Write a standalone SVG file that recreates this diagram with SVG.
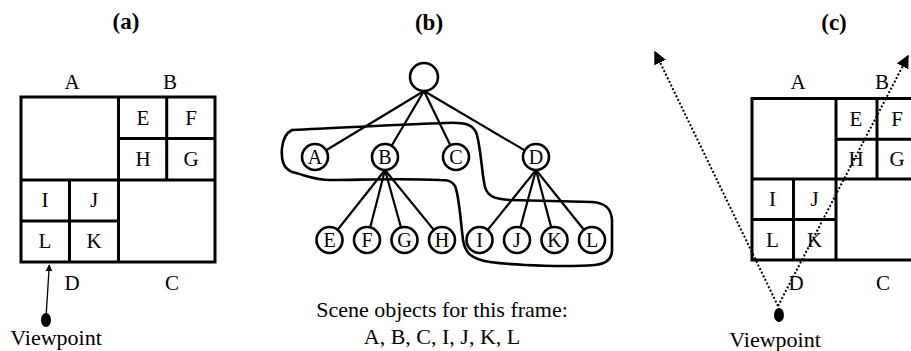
<svg xmlns="http://www.w3.org/2000/svg" width="911" height="351" viewBox="0 0 911 351">
<style>
text{font-family:"Liberation Serif","Times New Roman",serif;font-size:21px;fill:#000;text-anchor:middle}
.title{font-weight:bold;font-size:23px}
.big{font-size:22px}
.nl{font-size:20px}
.grid{fill:none;stroke:#000;stroke-width:3}
.node{fill:#fff;stroke:#000;stroke-width:2.6}
.edge{stroke:#000;stroke-width:2.2;fill:none}
.lasso{fill:none;stroke:#000;stroke-width:2.6;stroke-linejoin:round}
.dot{stroke:#000;stroke-width:2;stroke-dasharray:2 2;fill:none}
</style>
<defs>
<marker id="ah" viewBox="0 0 10 10" refX="9" refY="5" markerWidth="7" markerHeight="10" markerUnits="userSpaceOnUse" orient="auto"><path d="M0,0 L10,5 L0,10 Z" fill="#000"/></marker>
<marker id="ah2" viewBox="0 0 10 10" refX="9" refY="5" markerWidth="13" markerHeight="13" markerUnits="userSpaceOnUse" orient="auto"><path d="M0,0 L10,5 L0,10 Z" fill="#000"/></marker>
</defs>

<!-- Panel (a) -->
<g id="panel-a">
<text class="title" x="126" y="29">(a)</text>
<g id="a-grid">
<rect class="grid" x="21" y="97" width="194" height="165"/>
<line class="grid" x1="118.5" y1="97" x2="118.5" y2="262"/>
<line class="grid" x1="21" y1="180" x2="215" y2="180"/>
<line class="grid" x1="166.7" y1="97" x2="166.7" y2="180"/>
<line class="grid" x1="118.5" y1="138.5" x2="215" y2="138.5"/>
<line class="grid" x1="69.5" y1="180" x2="69.5" y2="262"/>
<line class="grid" x1="21" y1="221" x2="118.5" y2="221"/>
</g>
<text x="72" y="89">A</text>
<text x="170" y="89">B</text>
<text x="143" y="125">E</text>
<text x="191" y="125">F</text>
<text x="143" y="166">H</text>
<text x="191" y="166">G</text>
<text x="45" y="207">I</text>
<text x="94" y="207">J</text>
<text x="45" y="248">L</text>
<text x="94" y="248">K</text>
<text x="72" y="290">D</text>
<text x="172" y="290">C</text>
<g id="a-viewpoint">
<line x1="46" y1="318" x2="49.3" y2="265" stroke="#000" stroke-width="1.3" marker-end="url(#ah)"/>
<ellipse cx="46" cy="320" rx="5" ry="7" fill="#000"/>
<text class="big" x="56" y="345">Viewpoint</text>
</g>
</g>

<!-- Panel (b) -->
<g id="panel-b">
<text class="title" x="429" y="30">(b)</text>
<g id="connectors">
<line class="edge" x1="424" y1="91" x2="326.1" y2="150.3"/>
<line class="edge" x1="424" y1="91" x2="391.6" y2="145.8"/>
<line class="edge" x1="424" y1="91" x2="450.3" y2="145.3"/>
<line class="edge" x1="424" y1="91" x2="524.8" y2="150.4"/>
<line class="edge" x1="385" y1="170" x2="337.6" y2="229.8"/>
<line class="edge" x1="385" y1="170" x2="370.2" y2="227.4"/>
<line class="edge" x1="385" y1="170" x2="401" y2="227.5"/>
<line class="edge" x1="385" y1="170" x2="433.8" y2="229.9"/>
<line class="edge" x1="536" y1="170" x2="487.7" y2="229.9"/>
<line class="edge" x1="536" y1="170" x2="520.4" y2="227.4"/>
<line class="edge" x1="536" y1="170" x2="551.2" y2="227.4"/>
<line class="edge" x1="536" y1="170" x2="583.9" y2="229.8"/>
</g>
<g id="root"><circle class="node" cx="424" cy="77" r="14"/></g>
<g id="nA"><circle class="node" cx="315" cy="157" r="13"/><text class="nl" x="315" y="164">A</text></g>
<g id="nB"><circle class="node" cx="385" cy="157" r="13"/><text class="nl" x="385" y="164">B</text></g>
<g id="nC"><circle class="node" cx="456" cy="157" r="13"/><text class="nl" x="456" y="164">C</text></g>
<g id="nD"><circle class="node" cx="536" cy="157" r="13"/><text class="nl" x="536" y="164">D</text></g>
<g id="nE"><circle class="node" cx="329.5" cy="240" r="13"/><text class="nl" x="329.5" y="247">E</text></g>
<g id="nF"><circle class="node" cx="367" cy="240" r="13"/><text class="nl" x="367" y="247">F</text></g>
<g id="nG"><circle class="node" cx="404.5" cy="240" r="13"/><text class="nl" x="404.5" y="247">G</text></g>
<g id="nH"><circle class="node" cx="442" cy="240" r="13"/><text class="nl" x="442" y="247">H</text></g>
<g id="nI"><circle class="node" cx="479.5" cy="240" r="13"/><text class="nl" x="479.5" y="247">I</text></g>
<g id="nJ"><circle class="node" cx="517" cy="240" r="13"/><text class="nl" x="517" y="247">J</text></g>
<g id="nK"><circle class="node" cx="554.5" cy="240" r="13"/><text class="nl" x="554.5" y="247">K</text></g>
<g id="nL"><circle class="node" cx="592" cy="240" r="13"/><text class="nl" x="592" y="247">L</text></g>
<path id="lasso" class="lasso" d="M292,130 C340,128 410,124 445,123 C465,122 474,124 477,135 C481,150 482,175 485,187 C488,197 495,199 510,200 L592,202 C605,203 611,208 612,220 L612,250 C612,260 605,264 595,265 C570,267 520,266 490,262 C470,259 465,252 463,240 C460,215 459,195 455,186 C452,181 448,180 440,180 C400,178 360,180 330,180 C315,180 305,175 292,172 C283,168 281,160 282,148 C283,138 286,133 292,130 Z"/>
<text class="big" x="442" y="317">Scene objects for this frame:</text>
<text class="big" x="442" y="344">A, B, C, I, J, K, L</text>
</g>

<!-- Panel (c) -->
<g id="panel-c">
<text class="title" x="834" y="30">(c)</text>
<g id="c-grid">
<rect class="grid" x="752" y="98.5" width="167" height="161.5"/>
<line class="grid" x1="836" y1="98.5" x2="836" y2="260"/>
<line class="grid" x1="752" y1="179" x2="919" y2="179"/>
<line class="grid" x1="877" y1="98.5" x2="877" y2="179"/>
<line class="grid" x1="836" y1="139.3" x2="919" y2="139.3"/>
<line class="grid" x1="793.5" y1="179" x2="793.5" y2="260"/>
<line class="grid" x1="752" y1="219.5" x2="836" y2="219.5"/>
</g>
<text x="798" y="89">A</text>
<text x="882" y="89">B</text>
<text x="856" y="126">E</text>
<text x="897" y="126">F</text>
<text x="856" y="166">H</text>
<text x="897" y="166">G</text>
<text x="772.5" y="206">I</text>
<text x="814.5" y="206">J</text>
<text x="772.5" y="247">L</text>
<text x="814.5" y="247">K</text>
<text x="796" y="290">D</text>
<text x="883" y="290">C</text>
<g id="c-viewpoint">
<line class="dot" x1="778" y1="306" x2="655" y2="52" marker-end="url(#ah2)"/>
<line class="dot" x1="778" y1="306" x2="908" y2="56" marker-end="url(#ah2)"/>
<ellipse cx="779" cy="315" rx="5" ry="7" fill="#000"/>
<text class="big" x="775" y="347">Viewpoint</text>
</g>
</g>
</svg>
